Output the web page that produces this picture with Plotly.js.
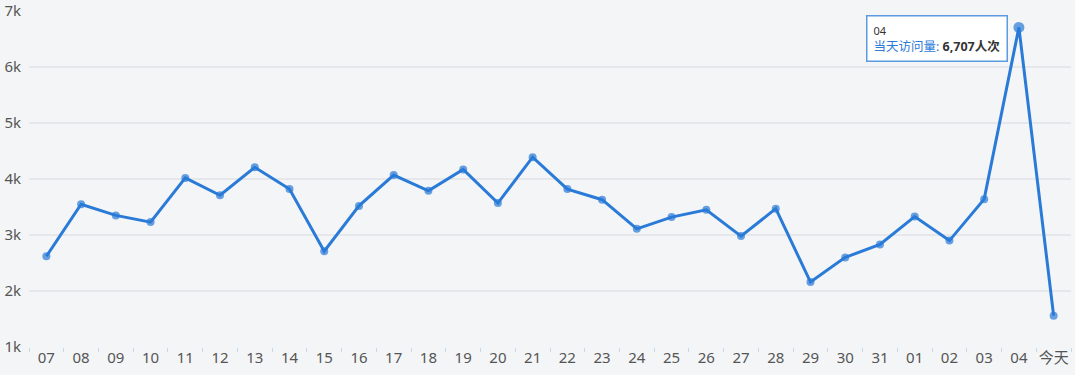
<!DOCTYPE html>
<html>
<head>
<meta charset="utf-8">
<script src="https://cdn.plot.ly/plotly-3.0.1.min.js"></script>
<style>
html,body{margin:0;padding:0;background:#f4f5f7;}
#chart{width:1075px;height:375px;}
</style>
</head>
<body>
<div id="chart"></div>
<script>
const days = ["07","08","09","10","11","12","13","14","15","16","17","18","19","20","21","22","23","24","25","26","27","28","29","30","31","01","02","03","04","今天"];
const visits = [2620,3550,3350,3230,4020,3710,4210,3820,2710,3520,4070,3790,4170,3570,4390,3820,3630,3110,3320,3450,2980,3470,2160,2600,2830,3330,2900,3640,6707,1560];
const yTickVals = [1000,2000,3000,4000,5000,6000,7000];
const yTickText = ["1k","2k","3k","4k","5k","6k","7k"];
const seriesName = "当天访问量";
const unit = "人次";
const hoverIndex = 28;

const blue = "#2a7bd7";
const sizes = days.map((d,i)=> i===hoverIndex ? 11 : 8);

const trace = {
  x: days, y: visits, type: "scatter", mode: "lines+markers",
  line: {color: blue, width: 3},
  marker: {color: blue, size: sizes, line: {width: 0}},
  hoverinfo: "skip"
};

const hv = visits[hoverIndex].toLocaleString("en-US");
const layout = {
  width: 1075, height: 375,
  margin: {l: 29, r: 4, t: 11, b: 28, pad: 0},
  paper_bgcolor: "#f4f5f7", plot_bgcolor: "#f4f5f7",
  font: {family: "'Noto Sans', 'Noto Sans CJK SC', sans-serif", color: "#555"},
  showlegend: false,
  xaxis: {
    type: "category", range: [-0.5, days.length - 0.5],
    tickson: "boundaries", ticks: "outside", ticklen: 4,
    tickcolor: "#c5d9ec", tickwidth: 1, showgrid: false, zeroline: false,
    showline: false, tickfont: {size: 15, color: "#555"}, tickangle: 0,
    automargin: false, fixedrange: true
  },
  yaxis: {
    range: [1000, 7000], tickvals: yTickVals, ticktext: yTickText,
    showgrid: true, gridcolor: "#e5e7ea", gridwidth: 2, zeroline: false,
    ticks: "", tickfont: {size: 15, color: "#555"}, ticklabelstandoff: 7,
    automargin: false, fixedrange: true
  },
  annotations: [{
    x: hoverIndex, y: visits[hoverIndex], xref: "x", yref: "y",
    showarrow: false, xanchor: "right", yanchor: "top", xshift: -11, yshift: 12,
    align: "left",
    text: "<span style='font-size:11px;color:#333'>" + days[hoverIndex] + "</span><br>" +
          "<span style='color:#2a7bd7'>" + seriesName + ": </span><span style='color:#333'><b>" + hv + unit + "</b></span>",
    font: {size: 12.5, family: "'Noto Sans', 'Noto Sans CJK SC', sans-serif"},
    bgcolor: "#ffffff", bordercolor: "#5b9be0", borderwidth: 1.5, borderpad: 6
  }]
};

Plotly.newPlot("chart", [trace], layout, {displayModeBar: false, staticPlot: true});
</script>
</body>
</html>
